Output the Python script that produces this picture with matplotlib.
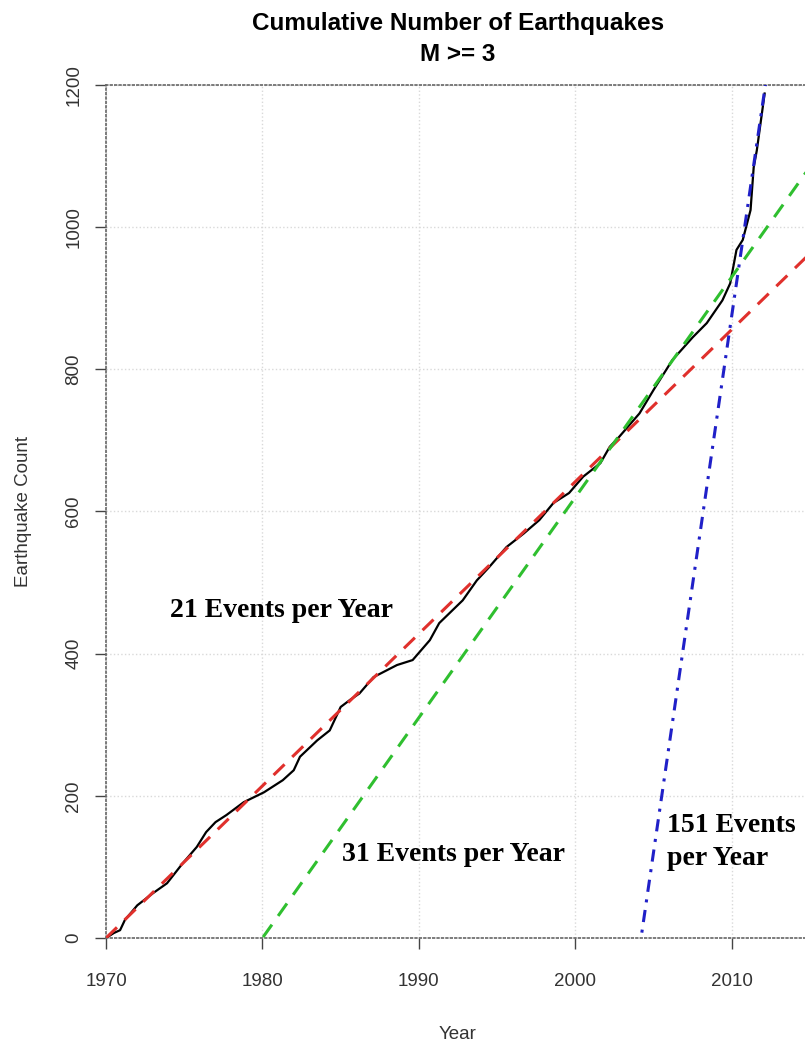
import numpy as np
import matplotlib
matplotlib.use('Agg')
import matplotlib.pyplot as plt

# cumulative count of M>=3 events
years = [1970.0, 1970.5, 1970.9, 1971.2, 1972.0, 1973.0, 1973.9, 1974.9, 1975.8, 1976.4,
         1977.0, 1977.7, 1978.8, 1980.1, 1981.3, 1982.0, 1982.4, 1983.5, 1984.3, 1985.0,
         1985.6, 1986.2, 1987.1, 1988.6, 1989.6, 1990.7, 1991.3, 1992.8, 1993.7, 1994.5,
         1995.6, 1996.7, 1997.7, 1998.6, 1999.6, 2000.5, 2001.6, 2002.2, 2002.8, 2004.1,
         2005.0, 2006.2, 2007.5, 2008.4, 2009.4, 2009.9, 2010.3, 2010.7, 2011.2, 2011.4,
         2011.6, 2012.1]
counts = [0, 7, 11, 25, 46, 63, 77, 105, 128, 149,
          163, 173, 191, 205, 222, 236, 255, 278, 292, 325,
          335, 344, 367, 384, 391, 419, 443, 475, 503, 522,
          550, 569, 588, 612, 626, 649, 668, 691, 705, 738,
          771, 813, 845, 865, 897, 921, 968, 982, 1024, 1084,
          1108, 1188]

# trend lines: events per year and the year where each line crosses zero
rates = [21.4, 31, 151]
start_years = [1970, 1980, 2004.2]
line_colors = ['#e0302c', '#2fbf2f', '#2020c8']
line_styles = [(0, (5, 3.5)), (0, (5, 3.5)), (0, (4, 2.5, 1, 2.5))]

labels = ['21 Events per Year', '31 Events per Year', '151 Events\nper Year']
label_x = [1974.1, 1985.1, 2005.85]
label_y = [461, 117, 135]

xticks = [1970, 1980, 1990, 2000, 2010]
yticks = [0, 200, 400, 600, 800, 1000, 1200]

plt.rcParams['font.family'] = ['Liberation Sans', 'DejaVu Sans']

fig = plt.figure(figsize=(8.05, 10.42), dpi=100)
W, H = 805, 1042
ax = fig.add_axes([106 / W, (H - 938) / H, (810 - 106) / W, (938 - 85) / H])

ax.grid(True, color='#d9d9d9', linestyle=':', linewidth=1)
ax.set_axisbelow(True)

ax.plot(years, counts, color='black', linewidth=1.6, zorder=3)

xx = np.array([1970, 2015])
for r, s, c, ls in zip(rates, start_years, line_colors, line_styles):
    ax.plot(xx, r * (xx - s), color=c, linestyle=ls, linewidth=2.2, zorder=4)

for t, x, y in zip(labels, label_x, label_y):
    ax.text(x, y, t, family='Liberation Serif', fontweight='bold', fontsize=20,
            ha='left', va='center', linespacing=1.45, zorder=5)

ax.set_xlim(1970, 2015)
ax.set_ylim(0, 1200)
ax.set_xticks(xticks)
ax.set_yticks(yticks)
ax.tick_params(axis='both', direction='out', length=8, width=1, color='#444444',
               labelcolor='#333333', labelsize=13.5)
ax.tick_params(axis='x', pad=17)
ax.tick_params(axis='y', pad=9)
for lab in ax.get_yticklabels():
    lab.set_rotation(90)
    lab.set_va('center')

for side in ['top', 'bottom', 'left']:
    ax.spines[side].set_linestyle(':')
    ax.spines[side].set_color('#666666')
    ax.spines[side].set_linewidth(1.2)
ax.spines['right'].set_visible(False)

ax.set_xlabel('Year', fontsize=13.5, color='#333333', labelpad=26)
ax.set_ylabel('Earthquake Count', fontsize=13.5, color='#333333', labelpad=24)
ax.set_title('Cumulative Number of Earthquakes\nM >= 3', fontsize=17.5,
             fontweight='bold', linespacing=1.45, pad=17)

fig.savefig('out.png', dpi=100)
